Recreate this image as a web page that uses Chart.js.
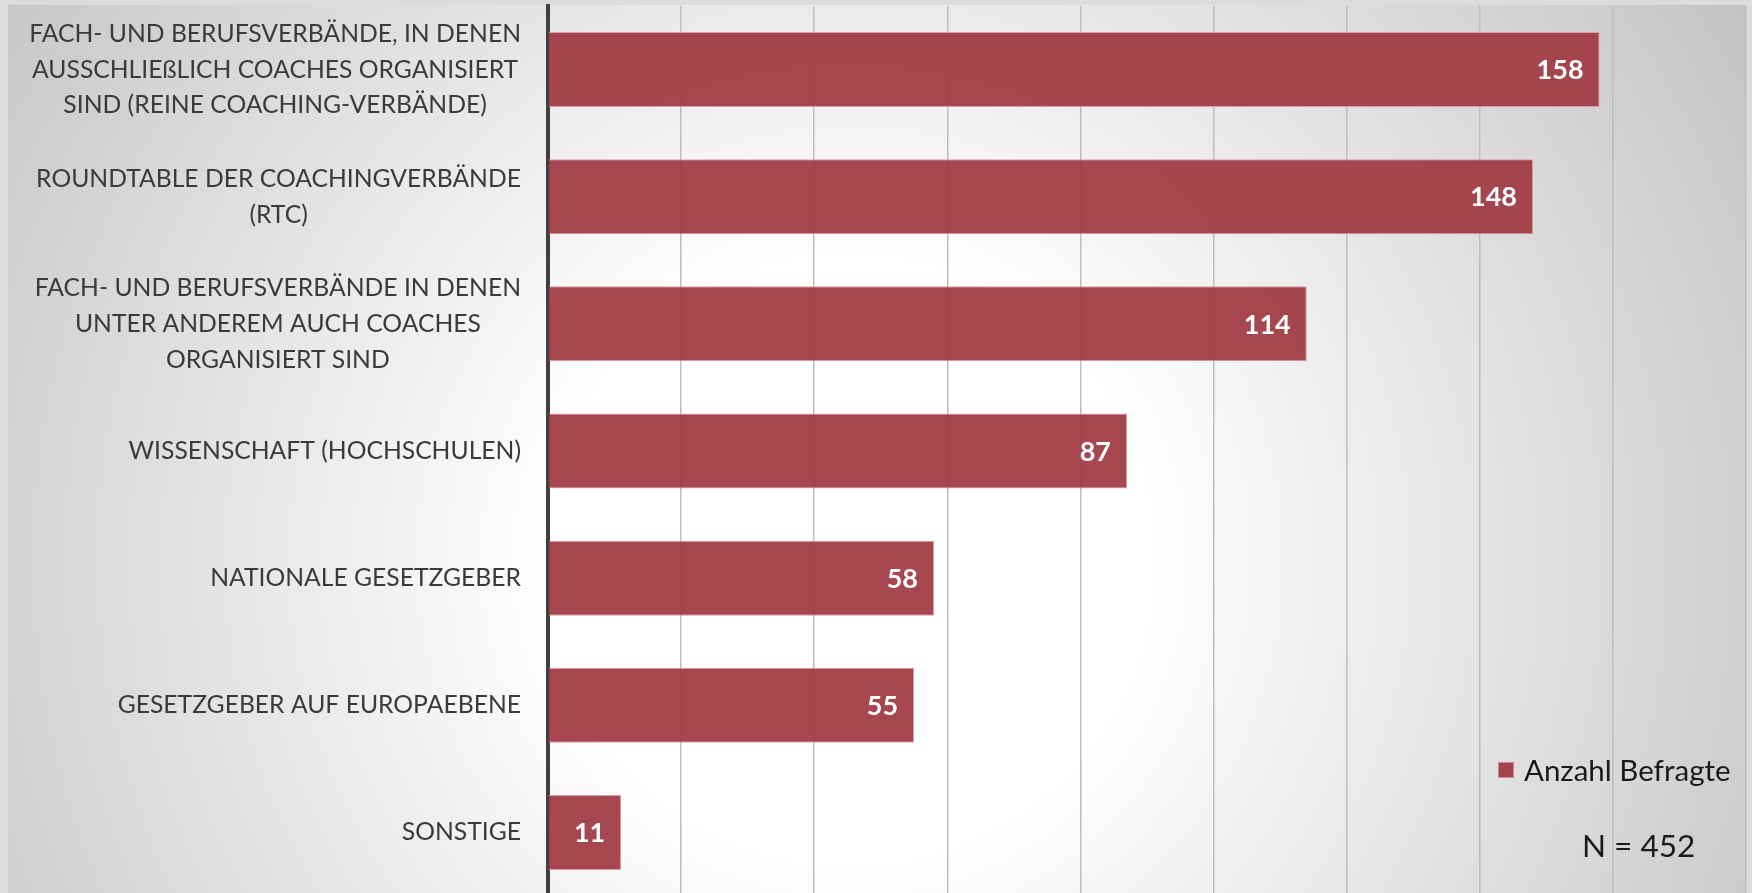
<!DOCTYPE html>
<html>
<head>
<meta charset="utf-8">
<script src="https://cdn.jsdelivr.net/npm/chart.js@4"></script>
<style>
    html, body { margin: 0; padding: 0; overflow: hidden; background: #dcdcdc; }
    #wrap { position: relative; width: 1752px; height: 900px; }
    .legend { position: absolute; left: 1498px; top: 752px; font-family: Lato, sans-serif; font-size: 29.5px; color: #1a1a1a; display: flex; align-items: center; }
    .legend .box { width: 16px; height: 16px; background: #a3444d; border: 1px solid #c98a90; box-sizing: border-box; margin-right: 10px; }
    .n_label { position: absolute; left: 1582px; top: 826px; font-family: Lato, sans-serif; font-size: 31.5px; color: #1a1a1a; }
</style>
</head>
<body>
<div id="wrap">
    <canvas id="chart" width="1752" height="900"></canvas>
    <div class="legend"><span class="box"></span><span>Anzahl Befragte</span></div>
    <div class="n_label">N = 452</div>
</div>
<script>
const categories = [
    ["FACH- UND BERUFSVERBÄNDE, IN DENEN", "AUSSCHLIEßLICH COACHES ORGANISIERT", "SIND (REINE COACHING-VERBÄNDE)"],
    ["ROUNDTABLE DER COACHINGVERBÄNDE", "(RTC)"],
    ["FACH- UND BERUFSVERBÄNDE IN DENEN", "UNTER ANDEREM AUCH COACHES", "ORGANISIERT SIND"],
    ["WISSENSCHAFT (HOCHSCHULEN)"],
    ["NATIONALE GESETZGEBER"],
    ["GESETZGEBER AUF EUROPAEBENE"],
    ["SONSTIGE"],
]
const respondents = [158, 148, 114, 87, 58, 55, 11]
const series_label = "Anzahl Befragte"

const x_max = 180
const x_step = 20
const label_font = "24.7px Lato, sans-serif"
const value_font = "bold 27px Lato, sans-serif"

// Grey frame with a soft radial highlight behind the whole chart
const background_plugin = {
    id: "background_plugin",
    beforeDraw(chart)
    {
        const ctx = chart.ctx
        ctx.save()
        ctx.fillStyle = "#dcdcdc"
        ctx.fillRect(0, 0, chart.width, chart.height)
        const gradient = ctx.createRadialGradient(850, 560, 0, 850, 560, 1050)
        gradient.addColorStop(0, "#ffffff")
        gradient.addColorStop(0.28, "#ffffff")
        gradient.addColorStop(1, "#c4c4c4")
        ctx.fillStyle = gradient
        ctx.fillRect(8, 5, 1738, chart.height)
        ctx.restore()
    }
}

// Category labels: block right aligned next to the axis, lines centred in the block
const category_labels_plugin = {
    id: "category_labels_plugin",
    afterDraw(chart)
    {
        const ctx = chart.ctx
        const y_scale = chart.scales.y
        const line_height = 35.8
        const right_edge = chart.chartArea.left - 27
        ctx.save()
        ctx.font = label_font
        ctx.fillStyle = "#3a3a3a"
        ctx.textAlign = "center"
        ctx.textBaseline = "middle"
        categories.forEach((lines, i) =>
        {
            const block_width = Math.max(...lines.map(line => ctx.measureText(line).width))
            const x = right_edge - block_width / 2
            const y_center = y_scale.getPixelForValue(i)
            lines.forEach((line, j) =>
            {
                ctx.fillText(line, x, y_center + (j - (lines.length - 1) / 2) * line_height)
            })
        })
        ctx.restore()
    }
}

// White values inside the end of each bar
const value_labels_plugin = {
    id: "value_labels_plugin",
    afterDatasetsDraw(chart)
    {
        const ctx = chart.ctx
        const meta = chart.getDatasetMeta(0)
        ctx.save()
        ctx.font = value_font
        ctx.fillStyle = "#ffffff"
        ctx.textAlign = "right"
        ctx.textBaseline = "middle"
        meta.data.forEach((bar, i) =>
        {
            ctx.fillText(String(respondents[i]), bar.x - 16, bar.y + 1)
        })
        ctx.restore()
    }
}

new Chart(document.getElementById("chart").getContext("2d"), {
    type: "bar",
    data: {
        labels: categories.map(lines => lines.join(" ")),
        datasets: [
            {
                label: series_label,
                data: respondents,
                backgroundColor: "rgba(160, 58, 68, 0.94)",
                borderColor: "rgba(214, 150, 156, 0.9)",
                borderWidth: 1,
                borderSkipped: "start",
                barPercentage: 0.59,
                categoryPercentage: 1.0,
            },
        ]
    },
    options: {
        indexAxis: "y",
        responsive: false,
        animation: false,
        layout: {
            padding: { left: 548, right: 6, top: 6, bottom: 4 }
        },
        plugins: {
            legend: { display: false },
            tooltip: { enabled: false },
        },
        scales: {
            x: {
                min: 0,
                max: x_max,
                ticks: { display: false, stepSize: x_step },
                grid: { color: "#bdbdbd", lineWidth: 1.5, drawTicks: false },
                border: { display: false },
                afterFit(scale) { scale.height = 0 },
            },
            y: {
                ticks: { display: false },
                grid: { display: false, drawTicks: false },
                border: { display: true, color: "#404040", width: 4 },
                afterFit(scale) { scale.width = 0 },
            }
        }
    },
    plugins: [background_plugin, category_labels_plugin, value_labels_plugin]
})
</script>
</body>
</html>
